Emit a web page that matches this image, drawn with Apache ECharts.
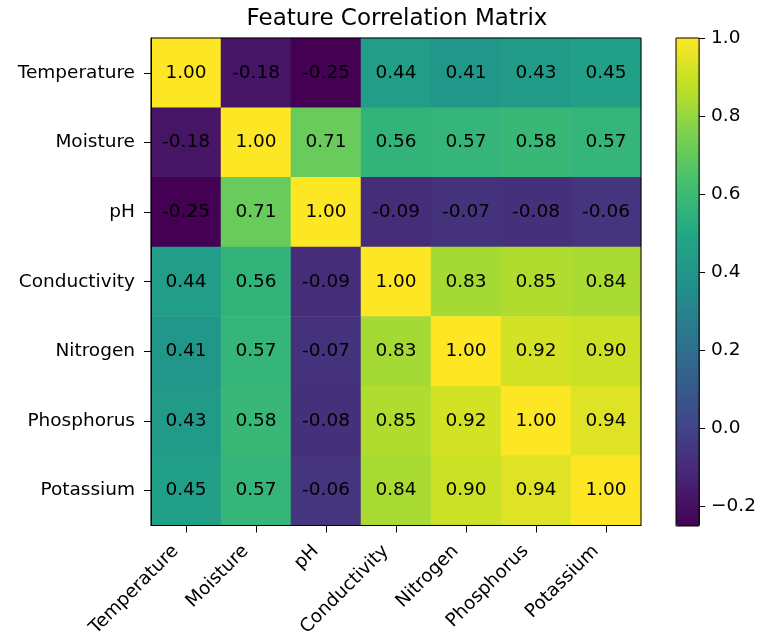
<!DOCTYPE html>
<html><head><meta charset="utf-8">
<script src="https://cdn.jsdelivr.net/npm/echarts@6/dist/echarts.min.js"></script>
<style>html,body{margin:0;padding:0;background:#fff}#c{width:759px;height:640px}</style>
</head><body><div id="c"></div>
<script>
const features = ['Temperature','Moisture','pH','Conductivity','Nitrogen','Phosphorus','Potassium'];
const corr = [
  [1.00,-0.18,-0.25,0.44,0.41,0.43,0.45],
  [-0.18,1.00,0.71,0.56,0.57,0.58,0.57],
  [-0.25,0.71,1.00,-0.09,-0.07,-0.08,-0.06],
  [0.44,0.56,-0.09,1.00,0.83,0.85,0.84],
  [0.41,0.57,-0.07,0.83,1.00,0.92,0.90],
  [0.43,0.58,-0.08,0.85,0.92,1.00,0.94],
  [0.45,0.57,-0.06,0.84,0.90,0.94,1.00]
];
const colorbarTicks = [-0.2,0,0.2,0.4,0.6,0.8,1.0];
const vmin = -0.25, vmax = 1.0;
const viridis = ['#440154','#482475','#414487','#355f8d','#2a788e','#21918c','#22a884','#44bf70','#7ad151','#bddf26','#fde725'];

const data = [];
corr.forEach((row,i)=>row.forEach((v,j)=>data.push([j,i,v])));
const font = 'DejaVu Sans';
const fs = 18.5;
const chart = echarts.init(document.getElementById('c'));
chart.setOption({
  animation:false,
  textStyle:{fontFamily:font},
  title:{text:'Feature Correlation Matrix',left:392,textAlign:'center',top:3,
    textStyle:{fontFamily:font,fontSize:23,fontWeight:'normal',color:'#000'}},
  grid:[
    {left:151,top:38,width:490,height:488,show:true,borderColor:'#000',borderWidth:1,backgroundColor:'transparent',z:10},
    {left:676,top:38,width:24,height:488,show:true,borderColor:'#000',borderWidth:1,backgroundColor:'transparent',z:10}
  ],
  xAxis:[
    {type:'category',data:features,gridIndex:0,z:10,
     axisLine:{show:true,lineStyle:{color:'#000',width:1}},axisTick:{show:true,alignWithLabel:true,length:7,lineStyle:{color:'#000'}},
     axisLabel:{rotate:45,fontSize:fs,color:'#000',fontFamily:font,margin:26,verticalAlign:'bottom',padding:[0,5,0,0]},splitLine:{show:false}},
    {type:'value',gridIndex:1,show:false,min:0,max:1}
  ],
  yAxis:[
    {type:'category',data:features,inverse:true,gridIndex:0,z:10,
     axisLine:{show:true,lineStyle:{color:'#000',width:1}},axisTick:{show:true,alignWithLabel:true,length:7,lineStyle:{color:'#000'}},
     axisLabel:{fontSize:fs,color:'#000',fontFamily:font,margin:16},splitLine:{show:false}},
    {type:'value',gridIndex:1,position:'right',min:vmin,max:vmax,z:10,
     axisLine:{show:false,onZero:false},splitLine:{show:false},
     axisTick:{show:true,inside:false,length:6,lineStyle:{color:'#000'},customValues:colorbarTicks},
     axisLabel:{fontSize:fs,color:'#000',fontFamily:font,margin:12,customValues:colorbarTicks,
       formatter:v=>(v<0?'\u2212':'')+Math.abs(v).toFixed(1)}}
  ],
  visualMap:{type:'continuous',min:vmin,max:vmax,calculable:false,orient:'vertical',
    left:676,top:38,itemWidth:24,itemHeight:488,padding:0,showLabel:false,hoverLink:false,
    inRange:{color:viridis},seriesIndex:0,textStyle:{color:'transparent'}},
  series:[
    {type:'heatmap',xAxisIndex:0,yAxisIndex:0,data:data,
     label:{show:true,fontSize:fs,color:'#000',fontFamily:font,formatter:p=>p.value[2].toFixed(2)},
     itemStyle:{borderWidth:0},emphasis:{disabled:true}},
    {type:'line',xAxisIndex:1,yAxisIndex:1,data:[],silent:true}
  ]
});
</script></body></html>
